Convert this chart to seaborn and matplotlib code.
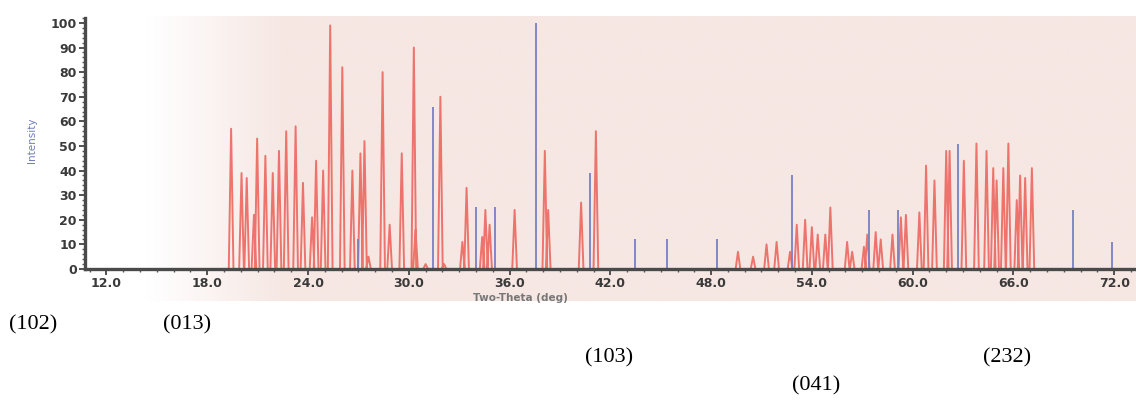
import numpy as np
import pandas as pd
import matplotlib
matplotlib.use("Agg")
import matplotlib.pyplot as plt
from matplotlib.ticker import MultipleLocator
import seaborn as sns

# ---- data ----
red_pos = [19.42, 20.04, 20.35, 20.78, 20.97, 21.46, 21.90, 22.27, 22.70, 23.26,
           23.70, 24.24, 24.48, 24.90, 25.32, 26.04, 26.64, 27.12, 27.36, 27.60,
           28.44, 28.86, 29.58, 30.30, 30.40, 31.00, 31.88, 32.10, 33.19, 33.44,
           34.37, 34.56, 34.81, 36.30, 38.10, 38.30, 40.26, 41.14,
           49.60, 50.50, 51.30, 51.90, 52.70, 53.10, 53.60, 54.00, 54.35, 54.80,
           55.10, 56.10, 56.40, 57.10, 57.30, 57.80, 58.10, 58.80, 59.30, 59.60,
           60.40, 60.80, 61.30, 62.00, 62.20, 63.05, 63.80, 64.40, 64.80, 65.00,
           65.40, 65.70, 66.20, 66.40, 66.70, 67.10]
red_int = [57, 39, 37, 22, 53, 46, 39, 48, 56, 58,
           35, 21, 44, 40, 99, 82, 40, 47, 52, 5,
           80, 18, 47, 90, 16, 2, 70, 2, 11, 33,
           13, 24, 18, 24, 48, 24, 27, 56,
           7, 5, 10, 11, 7, 18, 20, 17, 14, 14,
           25, 11, 7, 9, 14, 15, 12, 14, 21, 22,
           23, 42, 36, 48, 48, 44, 51, 48, 41, 36,
           41, 51, 28, 38, 37, 41]

blue_pos = [27.00, 31.44, 34.00, 35.12, 37.60, 40.80, 43.44, 45.40, 48.36,
            52.80, 57.40, 59.10, 62.70, 69.55, 71.90]
blue_int = [12, 66, 25, 25, 100, 39, 12, 12, 12,
            38, 24, 24, 51, 24, 11]

x_ticks = [12.0, 18.0, 24.0, 30.0, 36.0, 42.0, 48.0, 54.0, 60.0, 66.0, 72.0]
y_ticks = [0, 10, 20, 30, 40, 50, 60, 70, 80, 90, 100]
hkl_labels = ["(102)", "(013)", "(103)", "(232)", "(041)"]

# ---- style ----
sns.set_theme(style="white")
plt.rcParams["font.family"] = ["DejaVu Sans"]

W, H = 1136, 401
fig = plt.figure(figsize=(W / 100, H / 100), dpi=100)
fig.patch.set_facecolor("white")

# scanned-paper tint behind the plot
bg = fig.add_axes([0.0, 0.25, 1.0, 0.71], zorder=0)
gx = np.linspace(0, 1, 400)
ramp = np.clip((gx - 0.13) / 0.12, 0, 1)
white = np.array([1.0, 1.0, 1.0])
pink = np.array([246, 231, 227]) / 255.0
row = white[None, :] * (1 - ramp[:, None]) + pink[None, :] * ramp[:, None]
img = np.repeat(row[None, :, :], 10, axis=0)
bg.imshow(img, aspect="auto", extent=[0, 1, 0, 1])
bg.set_axis_off()

ax = fig.add_axes([85 / W, 1 - 269 / H, 1 - 85 / W, (269 - 18) / H], zorder=1)
ax.patch.set_alpha(0)

# red profile: narrow peaks built from the peak list
hw = 0.14
px, py = [], []
for p, h in zip(red_pos, red_int):
    px += [p - hw, p, p + hw]
    py += [0, h, 0]
prof = pd.DataFrame({"x": px, "y": py})
sns.lineplot(data=prof, x="x", y="y", sort=False, estimator=None,
             color="#ec5f58", lw=1.4, alpha=0.85, ax=ax)

# blue reference sticks
ax.vlines(blue_pos, 0, blue_int, colors="#7880c4", lw=1.3, zorder=3)

ax.set_xlim(10.72, 73.3)
ax.set_ylim(0, 102)
ax.set_xticks(x_ticks)
ax.set_xticklabels([f"{t:.1f}" for t in x_ticks])
ax.set_yticks(y_ticks)
ax.xaxis.set_minor_locator(MultipleLocator(1))
ax.yaxis.set_minor_locator(MultipleLocator(2))
ax.tick_params(axis="both", which="major", direction="out", length=4, width=1.3,
               color="#444", labelsize=9, labelcolor="#3a3a3a", pad=2)
ax.tick_params(axis="both", which="minor", direction="out", length=2.5, width=1.0,
               color="#555")
ax.tick_params(axis="x", which="both", bottom=True)
ax.tick_params(axis="y", which="both", left=True)
for lab in ax.get_xticklabels() + ax.get_yticklabels():
    lab.set_fontweight("bold")
for s in ["top", "right"]:
    ax.spines[s].set_visible(False)
for s in ["left", "bottom"]:
    ax.spines[s].set_color("#4a4a4a")
    ax.spines[s].set_linewidth(2.4)
    ax.spines[s].set_zorder(6)
ax.set_xlabel("")
ax.set_ylabel("")

fig.text(32 / W, 1 - 140 / H, "Intensity", rotation=90, ha="center", va="center",
         fontsize=7.5, color="#6f7cc0")
fig.text(520 / W, 1 - 298 / H, "Two-Theta (deg)", ha="center", va="center",
         fontsize=7.5, color="#777777", fontweight="bold")

# hkl annotations below the chart
hkl_xy = [(33, 325), (187, 325), (609, 358), (1007, 358), (816, 386)]
for lab, (x0, y0) in zip(hkl_labels, hkl_xy):
    fig.text(x0 / W, 1 - y0 / H, lab, ha="center", va="center", fontsize=16,
             family=["Liberation Serif", "DejaVu Serif"], color="black")

fig.savefig("out.png", dpi=100)
